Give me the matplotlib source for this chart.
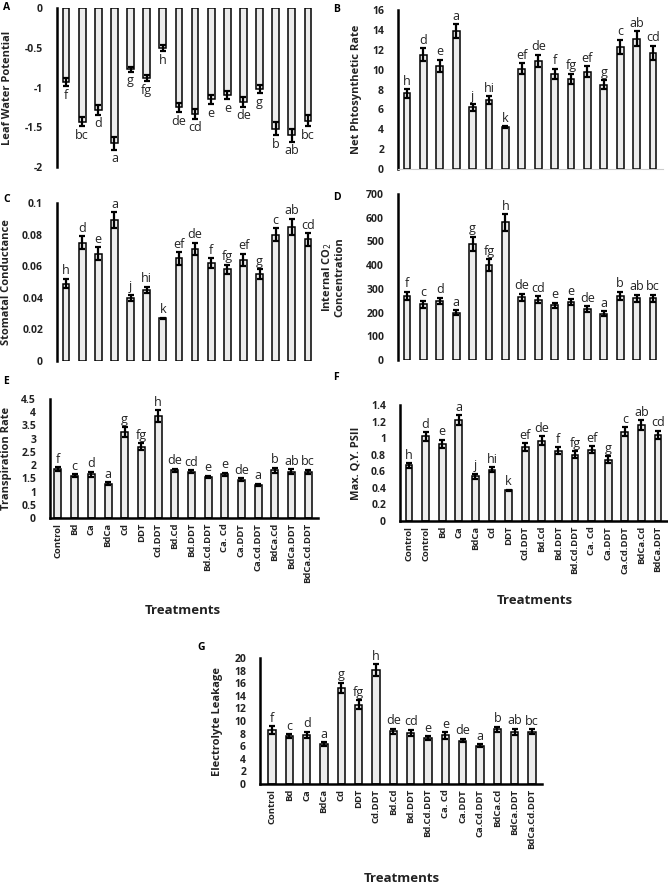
import matplotlib
matplotlib.use('Agg')
import matplotlib.pyplot as plt
import numpy as np

plt.rcParams['font.family'] = ['Open Sans', 'DejaVu Sans']

# treatment names (panel F uses a shifted list as in the original figure)
treat = ['Control', 'Bd', 'Ca', 'BdCa', 'Cd', 'DDT', 'Cd.DDT', 'Bd.Cd', 'Bd.DDT',
         'Bd.Cd.DDT', 'Ca. Cd', 'Ca.DDT', 'Ca.Cd.DDT', 'BdCa.Cd', 'BdCa.DDT', 'BdCa.Cd.DDT']
treat_f = ['Control', 'Control', 'Bd', 'Ca', 'BdCa', 'Cd', 'DDT', 'Cd.DDT', 'Bd.Cd', 'Bd.DDT',
           'Bd.Cd.DDT', 'Ca. Cd', 'Ca.DDT', 'Ca.Cd.DDT', 'BdCa.Cd', 'BdCa.DDT']

# A - leaf water potential
lwp = [-0.93, -1.43, -1.28, -1.70, -0.77, -0.88, -0.50, -1.25, -1.33, -1.15, -1.10, -1.18, -1.02, -1.52, -1.60, -1.42]
lwp_err = [0.05, 0.06, 0.06, 0.08, 0.03, 0.04, 0.04, 0.06, 0.06, 0.06, 0.05, 0.06, 0.05, 0.08, 0.08, 0.07]
lwp_let = ['f', 'bc', 'd', 'a', 'g', 'fg', 'h', 'de', 'cd', 'e', 'e', 'de', 'g', 'b', 'ab', 'bc']

# B - net photosynthetic rate
pn = [7.6, 11.5, 10.4, 13.9, 6.2, 6.9, 4.2, 10.1, 10.9, 9.6, 9.1, 9.8, 8.5, 12.3, 13.1, 11.7]
pn_err = [0.45, 0.65, 0.6, 0.7, 0.35, 0.4, 0.1, 0.55, 0.6, 0.5, 0.5, 0.55, 0.45, 0.7, 0.75, 0.7]
pn_let = ['h', 'd', 'e', 'a', 'j', 'hi', 'k', 'ef', 'de', 'f', 'fg', 'ef', 'g', 'c', 'ab', 'cd']

# C - stomatal conductance
gs = [0.049, 0.075, 0.068, 0.089, 0.040, 0.045, 0.027, 0.065, 0.071, 0.062, 0.058, 0.064, 0.055, 0.080, 0.085, 0.077]
gs_err = [0.003, 0.004, 0.004, 0.005, 0.002, 0.002, 0.0005, 0.004, 0.004, 0.003, 0.003, 0.004, 0.003, 0.004, 0.005, 0.004]
gs_let = pn_let

# D - internal CO2 concentration
ci = [270, 235, 250, 200, 490, 400, 580, 265, 255, 230, 245, 215, 195, 270, 260, 260]
ci_err = [18, 15, 12, 10, 30, 25, 35, 15, 15, 12, 12, 12, 10, 18, 15, 15]
ci_let = ['f', 'c', 'd', 'a', 'g', 'fg', 'h', 'de', 'cd', 'e', 'e', 'de', 'a', 'b', 'ab', 'bc']

# E - transpiration rate
tr = [1.85, 1.6, 1.65, 1.3, 3.25, 2.7, 3.85, 1.8, 1.75, 1.55, 1.65, 1.45, 1.25, 1.8, 1.75, 1.75]
tr_err = [0.08, 0.06, 0.1, 0.05, 0.18, 0.12, 0.22, 0.07, 0.06, 0.05, 0.07, 0.05, 0.05, 0.1, 0.1, 0.07]
tr_let = ci_let

# F - max quantum yield PSII
qy = [0.67, 1.02, 0.93, 1.22, 0.54, 0.62, 0.37, 0.89, 0.97, 0.85, 0.80, 0.86, 0.74, 1.08, 1.16, 1.04]
qy_err = [0.03, 0.05, 0.05, 0.06, 0.03, 0.03, 0.01, 0.05, 0.05, 0.04, 0.04, 0.04, 0.04, 0.05, 0.06, 0.05]
qy_let = pn_let

# G - electrolyte leakage
el = [8.6, 7.6, 7.8, 6.3, 15.3, 12.6, 18.1, 8.4, 8.1, 7.3, 7.7, 6.9, 6.1, 8.7, 8.3, 8.3]
el_err = [0.6, 0.3, 0.5, 0.3, 0.8, 0.7, 0.9, 0.4, 0.5, 0.3, 0.5, 0.3, 0.2, 0.4, 0.5, 0.4]
el_let = ci_let

W, H = 668, 885
fig = plt.figure(figsize=(W / 100, H / 100), dpi=100)


def panel(letter, vals, errs, lets, spine, first, last, top, bottom, ylim, yticks, ylabs,
          ylabel, ylab_x, letter_xy, xt=None, bottom_line='none'):
    sp = (last - first) / 15.0
    right = last + 0.6 * sp
    ax = fig.add_axes([spine / W, 1 - bottom / H, (right - spine) / W, (bottom - top) / H])
    x = np.arange(16)
    ax.bar(x, vals, width=0.42, color='#ececec', edgecolor='black', linewidth=1.1, zorder=2)
    ax.errorbar(x, vals, yerr=errs, fmt='none', ecolor='black', elinewidth=1.6,
                capsize=2.5, capthick=1.6, zorder=3)
    ax.set_xlim(-(first - spine) / sp, 15 + 0.6)
    ax.set_ylim(*ylim)
    ax.set_yticks(yticks)
    ax.set_yticklabels(ylabs, fontsize=7.5, fontweight='bold', color='#222222')
    ax.tick_params(axis='y', length=0, pad=10)
    ax.tick_params(axis='x', length=0)
    for s in ['top', 'right']:
        ax.spines[s].set_visible(False)
    ax.spines['left'].set_linewidth(1.8)
    if bottom_line == 'none':
        ax.spines['bottom'].set_visible(False)
    elif bottom_line == 'light':
        ax.spines['bottom'].set_color('#cccccc')
        ax.spines['bottom'].set_linewidth(0.8)
    else:
        ax.spines['bottom'].set_linewidth(1.8)
    if xt is None:
        ax.set_xticks([])
    else:
        ax.set_xticks(x)
        ax.set_xticklabels(xt, rotation=90, fontsize=6.8, fontweight='bold', color='#222222')
    neg = ylim[1] <= 0
    for i in range(16):
        if neg:
            ax.annotate(lets[i], (i, vals[i] - errs[i]), xytext=(0, -2), textcoords='offset points',
                        ha='center', va='top', fontsize=9, color='#222222')
        else:
            ax.annotate(lets[i], (i, vals[i] + errs[i]), xytext=(0, 1), textcoords='offset points',
                        ha='center', va='bottom', fontsize=9, color='#222222')
    ax.set_ylabel(ylabel, fontsize=8, fontweight='bold', color='#222222', linespacing=1.0)
    ax.yaxis.set_label_coords((ylab_x - spine) / (right - spine), 0.5)
    fig.text(letter_xy[0] / W, 1 - letter_xy[1] / H, letter, fontsize=7.5, fontweight='bold',
             ha='left', va='center')
    return ax


panel('A', lwp, lwp_err, lwp_let, 57, 66, 308, 8, 167, (-2, 0),
      [0, -0.5, -1, -1.5, -2], ['0', '-0.5', '-1', '-1.5', '-2'],
      'Leaf Water Potential', 13, (3, 8))

panel('B', pn, pn_err, pn_let, 398, 407, 653, 10, 169, (0, 16),
      list(range(0, 17, 2)), [str(v) for v in range(0, 17, 2)],
      'Net Phtosynthetic Rate', 362, (333, 9), bottom_line='light')

panel('C', gs, gs_err, gs_let, 57, 66, 308, 203, 361, (0, 0.1),
      [0, 0.02, 0.04, 0.06, 0.08, 0.1], ['0', '0.02', '0.04', '0.06', '0.08', '0.1'],
      'Stomatal Conductance', 12, (3, 200))

panel('D', ci, ci_err, ci_let, 398, 407, 653, 194, 360, (0, 700),
      list(range(0, 701, 100)), [str(v) for v in range(0, 701, 100)],
      'Internal CO$_2$\nConcentration', 345, (333, 198))

panel('E', tr, tr_err, tr_let, 50, 58, 308, 399, 518, (0, 4.5),
      [0, 0.5, 1, 1.5, 2, 2.5, 3, 3.5, 4, 4.5],
      ['0', '0.5', '1', '1.5', '2', '2.5', '3', '3.5', '4', '4.5'],
      'Transpiration Rate', 12, (3, 382), xt=treat, bottom_line='solid')

panel('F', qy, qy_err, qy_let, 400, 409, 658, 405, 521, (0, 1.4),
      [0, 0.2, 0.4, 0.6, 0.8, 1, 1.2, 1.4],
      ['0', '0.2', '0.4', '0.6', '0.8', '1', '1.2', '1.4'],
      'Max. Q.Y. PSII', 362, (333, 378), xt=treat_f, bottom_line='solid')

panel('G', el, el_err, el_let, 260, 272, 532, 658, 784, (0, 20),
      list(range(0, 21, 2)), [str(v) for v in range(0, 21, 2)],
      'Electrolyte Leakage', 223, (197, 648), xt=treat, bottom_line='solid')

fig.text(183 / W, 1 - 610 / H, 'Treatments', fontsize=9.5, fontweight='bold', ha='center', va='center', color='#222222')
fig.text(535 / W, 1 - 600 / H, 'Treatments', fontsize=9.5, fontweight='bold', ha='center', va='center', color='#222222')
fig.text(402 / W, 1 - 878 / H, 'Treatments', fontsize=9.5, fontweight='bold', ha='center', va='center', color='#222222')

fig.savefig('out.png', dpi=100)
